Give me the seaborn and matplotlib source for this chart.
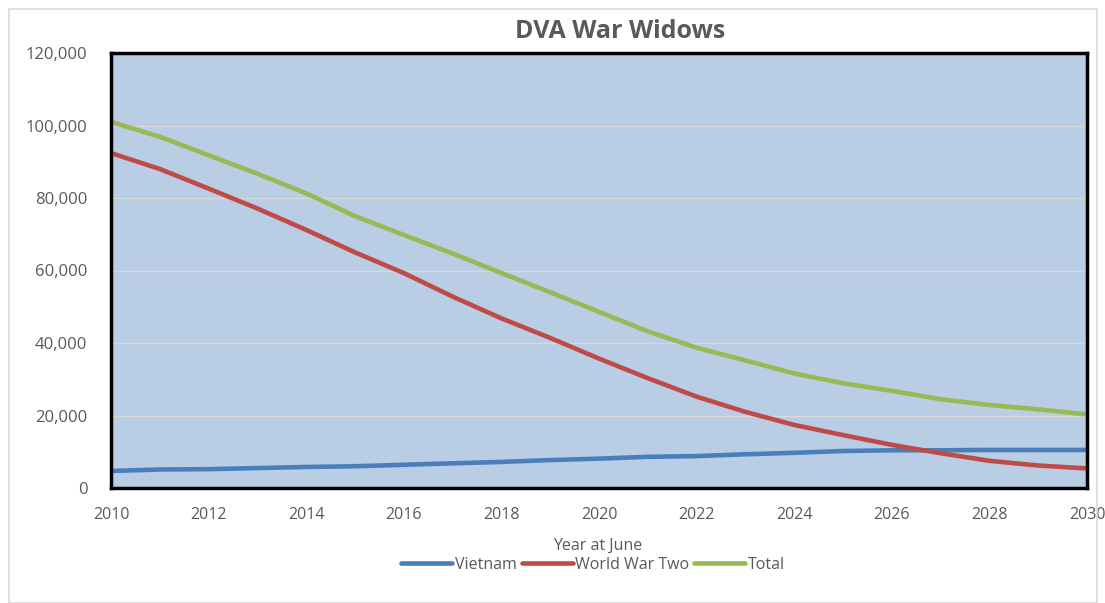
import numpy as np
import pandas as pd
import seaborn as sns
import matplotlib.pyplot as plt
from matplotlib.patches import Rectangle
from matplotlib.ticker import FuncFormatter, MultipleLocator

years = list(range(2010, 2031))
vietnam = [4700, 5100, 5200, 5500, 5800, 6000, 6400, 6800, 7200, 7700, 8100,
           8600, 8800, 9300, 9700, 10200, 10400, 10400, 10500, 10500, 10500]
ww2 = [92400, 88000, 82600, 77100, 71200, 65000, 59300, 52800, 46800, 41400, 35700,
       30300, 25200, 21000, 17400, 14600, 11900, 9600, 7500, 6200, 5400]
total = [101000, 96900, 91800, 86700, 81300, 75000, 69800, 64700, 59300, 54000, 48600,
         43200, 38700, 35200, 31600, 28900, 26800, 24500, 22900, 21700, 20300]
series_names = ["Vietnam", "World War Two", "Total"]
colors = ["#4A7EBB", "#BE4B48", "#98B954"]

df = pd.DataFrame({"year": years, "Vietnam": vietnam, "World War Two": ww2, "Total": total})
long = df.melt(id_vars="year", var_name="series", value_name="widows")

sns.set_style("white")
plt.rcParams["font.family"] = ["Open Sans", "DejaVu Sans"]
grey = "#595959"

fig = plt.figure(figsize=(11.05, 6.03), dpi=100)
ax = fig.add_axes([111 / 1105, 1 - 488 / 603, (1087 - 111) / 1105, (488 - 53) / 603])
fig.patches.append(Rectangle((9 / 1105, 0), 1088 / 1105, 594 / 603, transform=fig.transFigure,
                             fill=False, edgecolor="#D9D9D9", linewidth=1.2))

sns.lineplot(data=long, x="year", y="widows", hue="series", hue_order=series_names,
             palette=colors, linewidth=3.3, ax=ax, legend=False)

ax.set_facecolor("#B9CDE5")
ax.set_xlim(2010, 2030)
ax.set_ylim(0, 120000)
ax.yaxis.set_major_locator(MultipleLocator(20000))
ax.yaxis.set_major_formatter(FuncFormatter(lambda v, p: f"{int(v):,}"))
ax.xaxis.set_major_locator(MultipleLocator(2))
ax.xaxis.set_minor_locator(MultipleLocator(1))
ax.grid(axis="y", color="#D9D9D9", linewidth=1)
ax.set_axisbelow(True)
for s in ax.spines.values():
    s.set_color("black")
    s.set_linewidth(2.5)
ax.tick_params(axis="x", which="both", direction="in", length=6, width=2, colors="black",
               labelcolor=grey, labelsize=11.5, pad=14)
ax.tick_params(axis="y", length=0, labelcolor=grey, labelsize=12, pad=17)
ax.set_xlabel("")
ax.set_ylabel("")

fig.text(620 / 1105, 1 - 32 / 603, "DVA War Widows", ha="center", va="center",
         fontsize=18, fontweight="bold", color=grey)
fig.text(598 / 1105, 1 - 546 / 603, "Year at June", ha="center", va="center",
         fontsize=11.5, color=grey)

handles = [plt.Line2D([0], [0], color=c, linewidth=3.3) for c in colors]
leg = fig.legend(handles, series_names, loc="center", bbox_to_anchor=(593 / 1105, 1 - 565 / 603),
                 ncol=3, frameon=False, fontsize=11.5, handlelength=3.2, handletextpad=0.15,
                 columnspacing=0.3, labelcolor=grey)

fig.savefig("out.png", dpi=100)
